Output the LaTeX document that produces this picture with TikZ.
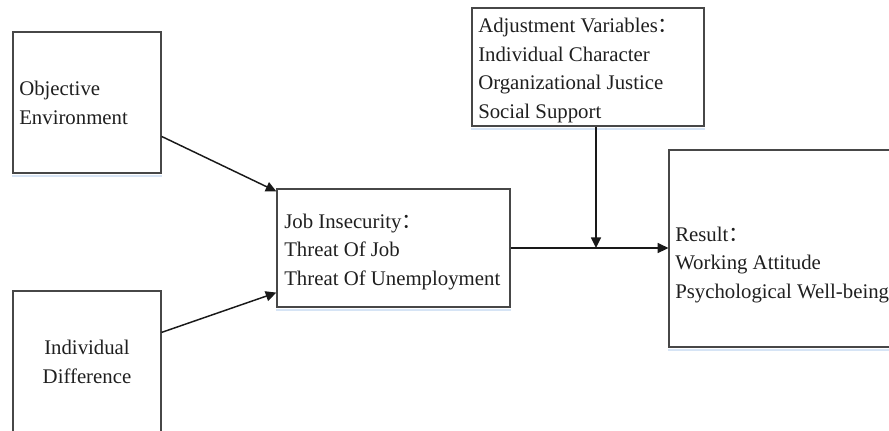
\documentclass[tikz,border=0pt]{standalone}
\usepackage{fontspec}
\setmainfont{Liberation Serif}
\newfontfamily\cjk{Noto Sans CJK SC}
\usetikzlibrary{arrows.meta,fit,calc}
\newcommand{\fwcolon}{{\cjk ：}}
\begin{document}
\begin{tikzpicture}[x=0.75pt,y=-0.75pt,
  box/.style={draw=black!72, line width=0.9pt, inner sep=0pt},
  txt/.style={inner sep=0pt, align=left, text=black!88,
    font=\fontsize{15.6pt}{21.3pt}\selectfont},
  arr/.style={draw=black!90, line width=1.1pt, -{Triangle[length=8pt,width=7.5pt]}},
  edgeshade/.style={draw={rgb,255:red,214;green,228;blue,245}, line width=1.5pt}]

\clip (0,0) rectangle (889,430);

% boxes
\node[box, fit={(13,32)(161,173)}] (objenv) {};
\node[box, fit={(13,291)(161,445)}] (indiff) {};
\node[box, fit={(277,189)(510,307)}] (jobin) {};
\node[box, fit={(472,8)(704,126)}] (adjust) {};
\node[box, fit={(669,150)(905,347)}] (result) {};

% light edge under the boxes
\foreach \b in {objenv,jobin,adjust,result}
  \draw[edgeshade] ([yshift=-1.5pt]\b.south west) -- ([yshift=-1.5pt]\b.south east);

% box texts (anchored at the baseline of their last line)
\node[txt, anchor=base west] (objenv-t) at (19,124) {Objective\\Environment};
\node[txt, anchor=base, align=center] (indiff-t) at (87,383) {Individual\\Difference};
\node[txt, anchor=base west] (jobin-t) at (284,285)
  {Job Insecurity\fwcolon\\Threat Of Job\\Threat Of Unemployment};
\node[txt, anchor=base west] (adjust-t) at (478,118)
  {Adjustment Variables\fwcolon\\Individual Character\\Organizational Justice\\Social Support};
\node[txt, anchor=base west] (result-t) at (675,298)
  {Result\fwcolon\\Working Attitude\\Psychological Well-being};

% connectors
\draw[arr] ([yshift=-78.75pt]objenv.north east) -- ([yshift=-2.25pt]jobin.north west);
\draw[arr] ([yshift=-31.5pt]indiff.north east) -- ([yshift=11.25pt]jobin.south west);
\draw[arr] (jobin.east) -- (jobin.east -| result.west);
\coordinate (join) at ([xshift=6pt]adjust.south |- jobin.east);
\draw[arr] ([xshift=6pt]adjust.south) -- (join);
\end{tikzpicture}
\end{document}
